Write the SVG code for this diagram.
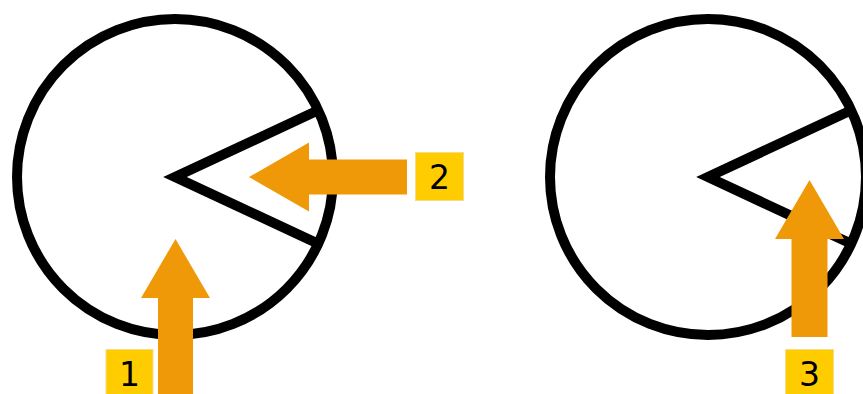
<svg xmlns="http://www.w3.org/2000/svg" width="863" height="394" viewBox="0 0 863 394">
<style>
.ring{fill:#fff;stroke:#000;stroke-width:10}
.wedge{fill:none;stroke:#000;stroke-width:10;stroke-linejoin:miter;stroke-miterlimit:10}
.arrow{fill:#ef9909}
.lbl{fill:#ffcc00;stroke:#f5dc8a;stroke-width:1}
.num{font-family:"DejaVu Sans",sans-serif;font-size:33px;fill:#000;text-anchor:middle}
</style>
<rect width="863" height="394" fill="#fff"/>
<g id="disc-left">
<circle class="ring" cx="175" cy="177" r="158"/>
<polyline class="wedge" points="318.2,110.2 175,177 318.2,243.8"/>
</g>
<g id="disc-right">
<circle class="ring" cx="708" cy="177" r="158"/>
<polyline class="wedge" points="851.2,110.2 708,177 851.2,243.8"/>
</g>
<g id="connectors">
<polygon id="arrow-1" class="arrow" points="158,400 158,298 141,298 175.5,239 210,298 193,298 193,400"/>
<polygon id="arrow-2" class="arrow" points="407,159.5 309,159.5 309,142.5 249,177 309,211.5 309,194.5 407,194.5"/>
<polygon id="arrow-3" class="arrow" points="791.5,337 791.5,239 775,239 809.5,180 844,239 827.5,239 827.5,337"/>
</g>
<g id="label-1">
<rect class="lbl" x="106" y="349.5" width="47" height="50"/>
<text class="num" x="129.5" y="385.5">1</text>
</g>
<g id="label-2">
<rect class="lbl" x="415.5" y="152.5" width="48" height="48"/>
<text class="num" x="439.5" y="189">2</text>
</g>
<g id="label-3">
<rect class="lbl" x="785.5" y="349.5" width="48" height="50"/>
<text class="num" x="809.5" y="385.5">3</text>
</g>
</svg>
